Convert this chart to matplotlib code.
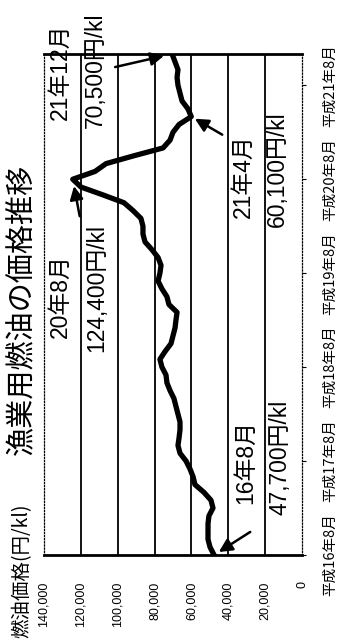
import matplotlib
matplotlib.use('Agg')
import matplotlib.pyplot as plt

# ---- data ----
months = list(range(65))  # 0 = 平成16年8月 ... 64 = 平成21年12月
prices = [47700, 49900, 51000, 51000, 51000, 50500, 48300, 49400, 53200, 58100,
          59100, 60800, 62900, 66200, 67300, 66700, 66200, 66200, 67300, 68400,
          69500, 71600, 73300, 73800, 76000, 77100, 74300, 71100, 70000, 68900,
          68400, 67800, 72200, 73300, 76000, 78100, 77100, 76500, 78100, 81400,
          85200, 86300, 86300, 87400, 91700, 96600, 108000, 119900, 124400, 112300,
          106300, 91200, 75400, 71600, 70000, 66700, 60100, 61900, 65100, 66200,
          67300, 67800, 67300, 68900, 70500]
price_ticks = [0, 20000, 40000, 60000, 80000, 100000, 120000, 140000]
price_tick_labels = ['0', '20,000', '40,000', '60,000', '80,000', '100,000', '120,000', '140,000']
time_ticks = [0, 12, 24, 36, 48, 60]
time_tick_labels = ['平成16年8月', '平成17年8月', '平成18年8月', '平成19年8月', '平成20年8月', '平成21年8月']
title = '漁業用燃油の価格推移'
ylabel = '燃油価格(円/kl)'
# highlighted points: month index, date label, price label
notes_month = [0, 48, 56, 64]
notes_date = ['16年8月', '20年8月', '21年4月', '21年12月']
notes_price = ['47,700円/kl', '124,400円/kl', '60,100円/kl', '70,500円/kl']

CJK = ['Noto Sans CJK JP', 'DejaVu Sans']
MIX = ['Liberation Sans', 'Noto Sans CJK JP', 'DejaVu Sans']

W, H = 337, 641
fig = plt.figure(figsize=(W / 100, H / 100), dpi=100)
fig.patch.set_facecolor('white')
ax = fig.add_axes([44 / W, 86 / H, 258 / W, 501 / H])

ax.plot(prices, months, color='black', lw=3.8, solid_joinstyle='round', zorder=3)
ax.set_xlim(price_ticks[-1], price_ticks[0])
ax.set_ylim(months[0], months[-1])

for p in price_ticks[1:-1]:
    ax.axvline(p, color='black', lw=1.3, zorder=1)

ax.spines['bottom'].set_linewidth(2.0)
ax.spines['top'].set_linewidth(2.0)
for s in ('left', 'right'):
    ax.spines[s].set_linewidth(0.9)
    ax.spines[s].set_linestyle((0, (1, 1.5)))

ax.set_xticks(price_ticks)
ax.set_xticklabels(price_tick_labels, rotation=90, fontsize=9, family='Liberation Sans')
ax.tick_params(axis='x', length=0, pad=19)

ax.yaxis.tick_right()
ax.set_yticks(time_ticks)
ax.set_yticklabels(time_tick_labels, rotation=90, va='center', fontsize=10.5, family=CJK)
ax.tick_params(axis='y', length=3, width=0.8, direction='out', pad=12)

fig.text(22 / W, 1 - 309 / H, title, rotation=90, ha='center', va='center',
         fontsize=21, family=CJK)
fig.text(22 / W, 1 - 503 / H, ylabel, rotation=90, ha='center', va='top',
         fontsize=14, family=CJK)

# text positions (axes fraction) for date / price labels
date_pos = [(0.783, 0.186), (0.062, 0.517), (0.771, 0.756), (0.062, 0.964)]
price_pos = [(0.915, 0.194), (0.205, 0.533), (0.903, 0.770), (0.198, 0.968)]
for (dx, dy), t in zip(date_pos, notes_date):
    ax.text(dx, dy, t, transform=ax.transAxes, rotation=90, ha='center', va='center',
            fontsize=16.5, family=MIX, clip_on=False, zorder=4)
for (px, py), t in zip(price_pos, notes_price):
    ax.text(px, py, t, transform=ax.transAxes, rotation=90, ha='center', va='center',
            fontsize=16.5, family=MIX, clip_on=False, zorder=4)

# arrows (tail offsets in points relative to the data point)
arrow_offsets = [(26, 16.6), (5, -26.6), (22.3, -13), (-41, -9.4)]
arrow_shrink = [4, 5, 3, 6]
for m, (ox, oy), sh in zip(notes_month, arrow_offsets, arrow_shrink):
    ax.annotate('', xy=(prices[m], m), xytext=(ox, oy), textcoords='offset points',
                arrowprops=dict(arrowstyle='-|>,head_length=0.8,head_width=0.4',
                                color='black', lw=1.8, shrinkA=0, shrinkB=sh),
                annotation_clip=False, zorder=5)

fig.savefig('out.png', dpi=100)
